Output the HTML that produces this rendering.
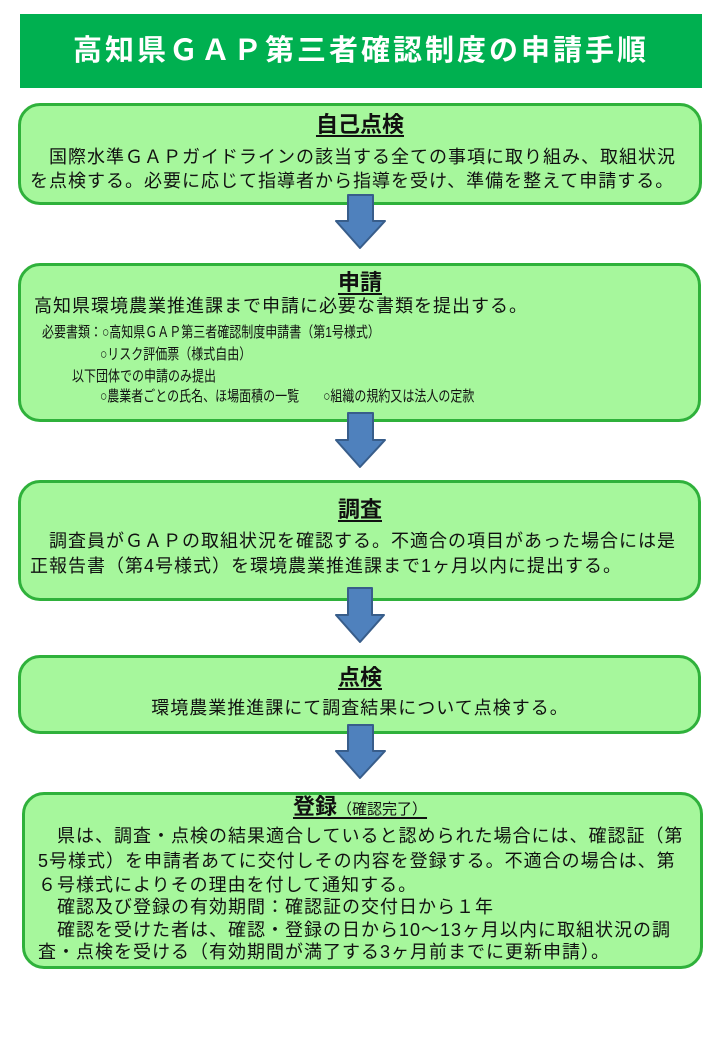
<!DOCTYPE html>
<html><head><meta charset="utf-8"><style>
body{margin:0;width:720px;height:1040px;background:#fff;position:relative;overflow:hidden;font-family:"Liberation Sans","Noto Sans CJK JP",sans-serif;color:#111}
.hd{position:absolute;left:20px;top:14px;width:682px;height:74px;background:#00b050;color:#fff;font-weight:bold;font-size:29px;letter-spacing:3px;text-align:center;line-height:74px}
.bx{position:absolute;background:#a6f79c;border:3px solid #2fb13b;border-radius:22px;box-sizing:border-box}
.t{position:absolute;white-space:nowrap;font-size:18px;line-height:24px;letter-spacing:1px}
.ti{position:absolute;left:0;width:100%;text-align:center;font-size:22px;font-weight:bold;line-height:26px}
.ti span{text-decoration:underline;text-underline-offset:3px}
.s{position:absolute;white-space:nowrap;font-size:15px;line-height:18px;transform:scaleX(0.8);transform-origin:0 0}
svg{position:absolute;left:0;top:0}
</style></head><body>
<div class="hd">高知県ＧＡＰ第三者確認制度の申請手順</div>

<div class="bx" style="left:18px;top:103px;width:684px;height:102px"></div>
<div class="bx" style="left:18px;top:263px;width:683px;height:159px"></div>
<div class="bx" style="left:18px;top:480px;width:683px;height:121px"></div>
<div class="bx" style="left:18px;top:655px;width:683px;height:79px"></div>
<div class="bx" style="left:22px;top:792px;width:681px;height:177px"></div>

<svg width="720" height="1040">
<g fill="#4f81bd" stroke="#385d8a" stroke-width="2" stroke-linejoin="round">
<path d="M348 195 H373 V221 H385 L360 248 L336 221 H348 Z"/>
<path d="M348 413 H373 V440 H385 L360 467 L336 440 H348 Z"/>
<path d="M348 588 H372 V615 H384 L360 642 L336 615 H348 Z"/>
<path d="M348 725 H373 V751 H385 L360 778 L336 751 H348 Z"/>
</g></svg>

<div class="ti" style="top:112px"><span>自己点検</span></div>
<div class="t" style="left:30px;top:145px">　国際水準ＧＡＰガイドラインの該当する全ての事項に取り組み、取組状況</div>
<div class="t" style="left:30px;top:169px">を点検する。必要に応じて指導者から指導を受け、準備を整えて申請する。</div>

<div class="ti" style="top:270px"><span>申請</span></div>
<div class="t" style="left:34px;top:294px">高知県環境農業推進課まで申請に必要な書類を提出する。</div>
<div class="s" style="left:42px;top:324px">必要書類：○高知県ＧＡＰ第三者確認制度申請書（第1号様式）</div>
<div class="s" style="left:100px;top:346px">○リスク評価票（様式自由）</div>
<div class="s" style="left:72px;top:368px">以下団体での申請のみ提出</div>
<div class="s" style="left:100px;top:388px">○農業者ごとの氏名、ほ場面積の一覧　　○組織の規約又は法人の定款</div>

<div class="ti" style="top:497px"><span>調査</span></div>
<div class="t" style="left:30px;top:529px">　調査員がＧＡＰの取組状況を確認する。不適合の項目があった場合には是</div>
<div class="t" style="left:30px;top:554px">正報告書（第4号様式）を環境農業推進課まで1ヶ月以内に提出する。</div>

<div class="ti" style="top:665px"><span>点検</span></div>
<div class="t" style="left:0;width:720px;text-align:center;top:696px">環境農業推進課にて調査結果について点検する。</div>

<div class="ti" style="top:794px;left:0"><span>登録<span style="font-size:15px;font-weight:normal">（確認完了）</span></span></div>
<div class="t" style="left:38px;top:824px">　県は、調査・点検の結果適合していると認められた場合には、確認証（第</div>
<div class="t" style="left:38px;top:849px">5号様式）を申請者あてに交付しその内容を登録する。不適合の場合は、第</div>
<div class="t" style="left:38px;top:873px">６号様式によりその理由を付して通知する。</div>
<div class="t" style="left:38px;top:895px">　確認及び登録の有効期間：確認証の交付日から１年</div>
<div class="t" style="left:38px;top:918px">　確認を受けた者は、確認・登録の日から10～13ヶ月以内に取組状況の調</div>
<div class="t" style="left:38px;top:940px">査・点検を受ける（有効期間が満了する3ヶ月前までに更新申請）。</div>
</body></html>
